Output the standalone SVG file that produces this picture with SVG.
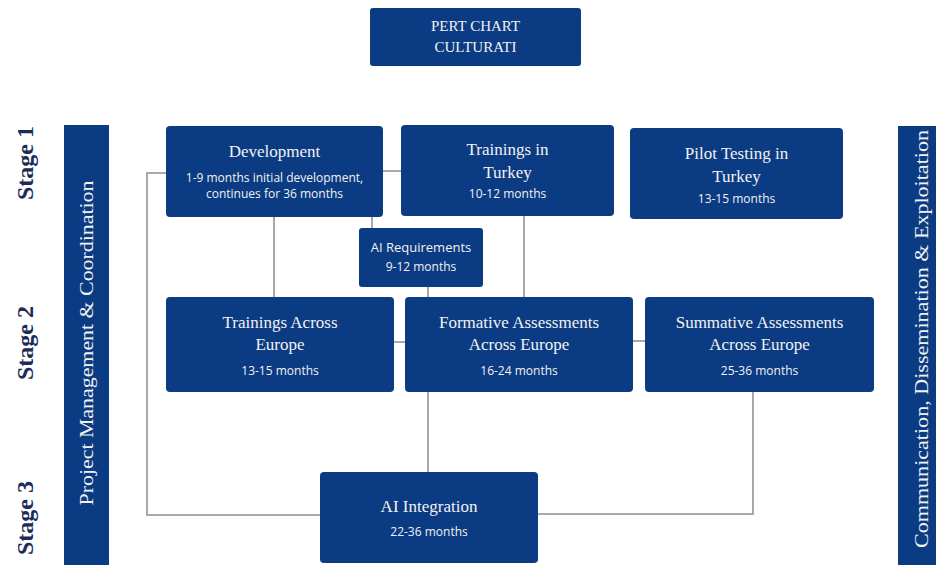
<svg xmlns="http://www.w3.org/2000/svg" width="936" height="565" viewBox="0 0 936 565">
<style>
.box{fill:#0b3b82;}
.t{font-family:"Liberation Serif","DejaVu Serif",serif;font-size:17px;fill:#f2f2f2;text-anchor:middle;}
.s{font-family:"Open Sans","Liberation Sans",sans-serif;font-size:12px;fill:#f2f2f2;text-anchor:middle;}
.stage{font-family:"Liberation Serif","DejaVu Serif",serif;font-size:24px;font-weight:bold;fill:#1c2b5a;text-anchor:middle;}
.bar{font-family:"Liberation Serif","DejaVu Serif",serif;font-size:19px;fill:#f2f2f2;text-anchor:middle;}
.c{fill:none;stroke:#8a8d93;stroke-width:1.5;}
</style>
<rect width="936" height="565" fill="#ffffff"/>
<g id="connectors">
<polyline class="c" points="166,173 147,173 147,515 320,515"/>
<line class="c" x1="383" y1="171" x2="401" y2="171"/>
<line class="c" x1="274" y1="217" x2="274" y2="297"/>
<line class="c" x1="372" y1="217" x2="372" y2="228"/>
<line class="c" x1="428" y1="287" x2="428" y2="297"/>
<line class="c" x1="524" y1="216" x2="524" y2="297"/>
<line class="c" x1="394" y1="342" x2="405" y2="342"/>
<line class="c" x1="633" y1="341" x2="645" y2="341"/>
<line class="c" x1="428" y1="392" x2="428" y2="472"/>
<polyline class="c" points="538,514 753,514 753,392"/>
</g>
<g id="title">
<rect class="box" x="370" y="8" width="211" height="58" rx="3"/>
<text class="t" x="475.5" y="31" style="font-size:15px">PERT CHART</text>
<text class="t" x="475.5" y="52" style="font-size:15px">CULTURATI</text>
</g>
<g id="stage1"><text class="stage" transform="translate(33,163) rotate(-90)">Stage 1</text></g>
<g id="stage2"><text class="stage" transform="translate(33,343) rotate(-90)">Stage 2</text></g>
<g id="stage3"><text class="stage" transform="translate(33,518) rotate(-90)">Stage 3</text></g>
<g id="pm">
<rect class="box" x="64" y="125" width="45" height="440"/>
<text class="bar" transform="translate(93,343) rotate(-90)" textLength="325" lengthAdjust="spacingAndGlyphs">Project Management &amp; Coordination</text>
</g>
<g id="cde">
<rect class="box" x="898" y="126" width="38" height="439"/>
<text class="bar" transform="translate(928,339) rotate(-90)" textLength="418" lengthAdjust="spacingAndGlyphs">Communication, Dissemination &amp; Exploitation</text>
</g>
<g id="development">
<rect class="box" x="166" y="126" width="217" height="91" rx="4"/>
<text class="t" x="274.5" y="157">Development</text>
<text class="s" x="274.5" y="182">1-9 months initial development,</text>
<text class="s" x="274.5" y="198">continues for 36 months</text>
</g>
<g id="trainings-turkey">
<rect class="box" x="401" y="125" width="213" height="91" rx="4"/>
<text class="t" x="507.5" y="155">Trainings in</text>
<text class="t" x="507.5" y="178">Turkey</text>
<text class="s" x="507.5" y="198">10-12 months</text>
</g>
<g id="pilot-testing">
<rect class="box" x="630" y="128" width="213" height="91" rx="4"/>
<text class="t" x="736.5" y="159">Pilot Testing in</text>
<text class="t" x="736.5" y="182">Turkey</text>
<text class="s" x="736.5" y="203">13-15 months</text>
</g>
<g id="ai-requirements">
<rect class="box" x="359" y="228" width="124" height="59" rx="3"/>
<text class="s" x="421" y="252" style="font-size:13px">AI Requirements</text>
<text class="s" x="421" y="271">9-12 months</text>
</g>
<g id="trainings-europe">
<rect class="box" x="166" y="297" width="228" height="95" rx="4"/>
<text class="t" x="280" y="328">Trainings Across</text>
<text class="t" x="280" y="350">Europe</text>
<text class="s" x="280" y="375">13-15 months</text>
</g>
<g id="formative">
<rect class="box" x="405" y="297" width="228" height="95" rx="4"/>
<text class="t" x="519" y="328">Formative Assessments</text>
<text class="t" x="519" y="350">Across Europe</text>
<text class="s" x="519" y="375">16-24 months</text>
</g>
<g id="summative">
<rect class="box" x="645" y="297" width="229" height="95" rx="4"/>
<text class="t" x="759.5" y="328">Summative Assessments</text>
<text class="t" x="759.5" y="350">Across Europe</text>
<text class="s" x="759.5" y="375">25-36 months</text>
</g>
<g id="ai-integration">
<rect class="box" x="320" y="472" width="218" height="91" rx="4"/>
<text class="t" x="429" y="512">AI Integration</text>
<text class="s" x="429" y="536">22-36 months</text>
</g>
</svg>
